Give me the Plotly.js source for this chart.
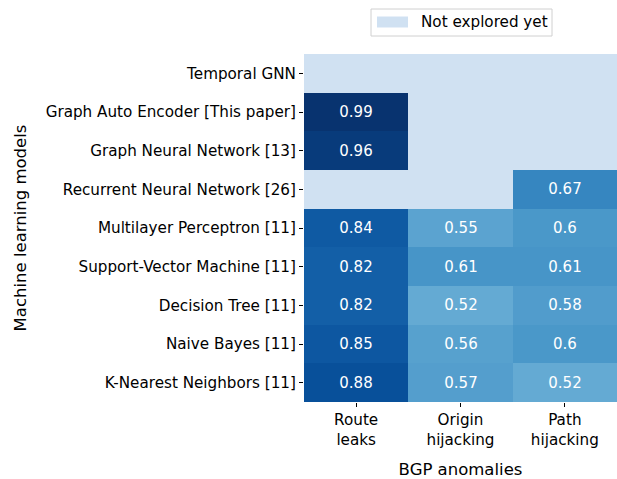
<!DOCTYPE html>
<html><head><meta charset="utf-8">
<script src="https://cdn.plot.ly/plotly-3.0.1.min.js"></script>
<style>html,body{margin:0;padding:0;background:#fff}</style>
</head><body><div id="chart" style="width:617px;height:479px"></div>
<script>
const models = ["Temporal GNN","Graph Auto Encoder [This paper]","Graph Neural Network [13]","Recurrent Neural Network [26]","Multilayer Perceptron [11]","Support-Vector Machine [11]","Decision Tree [11]","Naive Bayes [11]","K-Nearest Neighbors [11]"];
const anomalies = ["Route<br>leaks","Origin<br>hijacking","Path<br>hijacking"];
const routeLeaks = [null,0.99,0.96,null,0.84,0.82,0.82,0.85,0.88];
const originHijacking = [null,null,null,null,0.55,0.61,0.52,0.56,0.57];
const pathHijacking = [null,null,null,0.67,0.6,0.61,0.58,0.6,0.52];
const missingColor = "#d0e1f2";
const legendLabel = "Not explored yet";

const z = models.map((m,i)=>[routeLeaks[i],originHijacking[i],pathHijacking[i]]);
const blues = [[0,"#f7fbff"],[0.125,"#deebf7"],[0.25,"#c6dbef"],[0.375,"#9ecae1"],[0.5,"#6baed6"],[0.625,"#4292c6"],[0.75,"#2171b5"],[0.875,"#08519c"],[1,"#08306b"]];

const W=617,H=479,L=304,R=0,T=54,B=77;
const pw=W-L-R, ph=H-T-B;
const px=x=>(x-L)/pw, py=y=>(H-B-y)/ph;

const trace = {
  type:"heatmap", x:anomalies, y:models, z:z,
  colorscale:blues, zmin:0, zmax:1, showscale:false,
  texttemplate:"%{z}", textfont:{color:"#ffffff",size:15,family:"DejaVu Sans"},
  hoverongaps:false, xgap:0, ygap:0
};
const layout = {
  width:W,height:H,margin:{l:L,r:R,t:T,b:B},
  paper_bgcolor:"#fff", plot_bgcolor:missingColor,
  font:{family:"DejaVu Sans",color:"#000",size:15.2},
  xaxis:{title:{text:"BGP anomalies",font:{size:16.5},standoff:15},ticks:"outside",ticklen:4,tickcolor:"#000",showgrid:false,zeroline:false,showline:false,tickfont:{size:15.2}},
  yaxis:{title:{text:"Machine learning models",font:{size:16.5},standoff:14},autorange:"reversed",ticks:"outside",ticklen:4,tickcolor:"#000",showgrid:false,zeroline:false,showline:false,tickfont:{size:15.2}},
  shapes:[
    {type:"rect",xref:"paper",yref:"paper",x0:px(371),x1:px(552),y0:py(36),y1:py(9),line:{color:"#d0d0d0",width:1},fillcolor:"rgba(255,255,255,0.8)"},
    {type:"rect",xref:"paper",yref:"paper",x0:px(377),x1:px(408),y0:py(27.5),y1:py(16.5),line:{width:0},fillcolor:missingColor}
  ],
  annotations:[
    {xref:"paper",yref:"paper",x:px(419),y:py(22),xanchor:"left",yanchor:"middle",text:legendLabel,showarrow:false,font:{size:15.2,color:"#000"}}
  ]
};
Plotly.newPlot("chart",[trace],layout,{displayModeBar:false,staticPlot:true});
</script></body></html>
